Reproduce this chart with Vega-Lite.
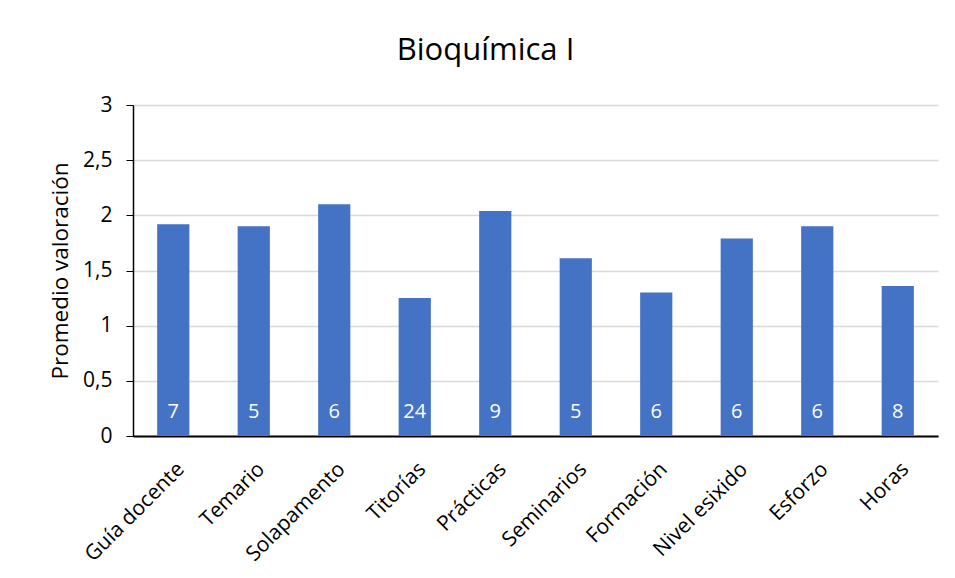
{
  "$schema": "https://vega.github.io/schema/vega-lite/v6.json",
  "width": 805,
  "height": 331,
  "autosize": {"type": "none"},
  "padding": {"left": 133, "top": 105, "right": 17, "bottom": 142},
  "background": "white",
  "title": {
    "text": "Bioquímica I",
    "font": "Open Sans",
    "fontSize": 31,
    "fontWeight": "normal",
    "color": "#000000",
    "anchor": "middle",
    "offset": 27,
    "dx": -50
  },
  "config": {
    "locale": {"number": {"decimal": ",", "thousands": ".", "grouping": [3], "currency": ["", " €"]}},
    "view": {"stroke": null},
    "axis": {"labelFont": "Open Sans", "titleFont": "Open Sans", "labelColor": "#000000", "titleColor": "#000000"}
  },
  "data": {
    "values": [
      {"item": "Guía docente", "valor": 1.92, "n": 7},
      {"item": "Temario", "valor": 1.9, "n": 5},
      {"item": "Solapamento", "valor": 2.1, "n": 6},
      {"item": "Titorías", "valor": 1.25, "n": 24},
      {"item": "Prácticas", "valor": 2.04, "n": 9},
      {"item": "Seminarios", "valor": 1.61, "n": 5},
      {"item": "Formación", "valor": 1.3, "n": 6},
      {"item": "Nivel esixido", "valor": 1.79, "n": 6},
      {"item": "Esforzo", "valor": 1.9, "n": 6},
      {"item": "Horas", "valor": 1.36, "n": 8}
    ]
  },
  "encoding": {
    "x": {
      "field": "item",
      "type": "nominal",
      "sort": null,
      "scale": {"paddingInner": 0.6, "paddingOuter": 0.3},
      "axis": {
        "title": null,
        "labelAngle": -45,
        "labelAlign": "right",
        "labelBaseline": "top",
        "labelFontSize": 21,
        "labelPadding": 22,
        "ticks": false,
        "domainColor": "#000000",
        "domainWidth": 2,
        "grid": false
      }
    }
  },
  "layer": [
    {
      "mark": {"type": "bar", "color": "#4472C4"},
      "encoding": {
        "y": {
          "field": "valor",
          "type": "quantitative",
          "scale": {"domain": [0, 3]},
          "axis": {
            "title": "Promedio valoración",
            "titleFontSize": 22.5,
            "titleFontWeight": "normal",
            "titlePadding": 10,
            "values": [0, 0.5, 1, 1.5, 2, 2.5, 3],
            "format": "~r",
            "labelFontSize": 21,
            "labelPadding": 14,
            "tickSize": 7,
            "tickColor": "#000000",
            "domainColor": "#000000",
            "domainWidth": 1.5,
            "gridColor": "#d9d9d9",
            "gridWidth": 1.5
          }
        }
      }
    },
    {
      "mark": {"type": "text", "color": "white", "font": "Open Sans", "fontSize": 20, "baseline": "middle", "dy": -24},
      "encoding": {
        "y": {"datum": 0, "type": "quantitative"},
        "text": {"field": "n", "type": "quantitative"}
      }
    }
  ]
}
